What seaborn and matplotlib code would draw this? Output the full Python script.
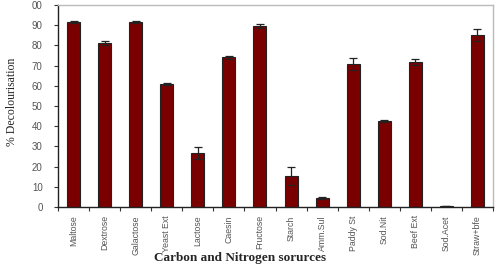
import matplotlib
matplotlib.use('Agg')
import matplotlib.pyplot as plt
import seaborn as sns
import pandas as pd
import numpy as np

sources = ['Maltose', 'Dextrose', 'Galactose', 'Yeast Ext', 'Lactose', 'Caesin',
           'Fructose', 'Starch', 'Amm.Sul', 'Paddy St', 'Sod.Nit', 'Beef Ext',
           'Sod.Acet', 'Straw+bfe']
decolour = [91.6, 81.3, 91.6, 60.9, 26.8, 74.2, 89.5, 15.3, 4.4, 70.8, 42.8, 71.8, 0.3, 85.1]
errors = [0.5, 1.0, 0.4, 0.4, 3.0, 0.7, 1.0, 4.5, 0.5, 3.0, 0.5, 1.5, 0.0, 2.8]

df = pd.DataFrame({'source': sources, 'decol': decolour, 'err': errors})

sns.set_style('white')
plt.rcParams['font.family'] = ['Liberation Sans', 'DejaVu Sans']

fig = plt.figure(figsize=(5, 2.69), dpi=100)
ax = fig.add_axes([0.116, 0.2305, 0.87, 0.751])

sns.barplot(data=df, x='source', y='decol', color='#7a0000', saturation=1,
            width=0.42, edgecolor='#222222', linewidth=0.8, errorbar=None, ax=ax)
ax.errorbar(np.arange(len(df)), df['decol'], yerr=df['err'], fmt='none',
            ecolor='#222222', elinewidth=0.9, capsize=3, capthick=0.9)

ax.set_ylim(0, 100)
ax.set_xlim(-0.5, len(df) - 0.5)
ax.set_yticks(range(0, 101, 10))
ax.set_yticklabels([str(v) for v in range(0, 100, 10)] + ['00'])
ax.tick_params(axis='y', labelsize=7, labelcolor='#555555', length=3, width=0.8,
               color='#333333', left=True, pad=8)
ax.set_xticks(np.arange(len(df)))
ax.set_xticklabels(sources, rotation=90, fontsize=6.3, color='#555555')
ax.tick_params(axis='x', length=0, pad=6)
# minor ticks between categories
ax.set_xticks(np.arange(len(df) + 1) - 0.5, minor=True)
ax.tick_params(axis='x', which='minor', length=3, width=0.8, color='#333333', bottom=True)

for side in ['top', 'right']:
    ax.spines[side].set_color('#bbbbbb')
    ax.spines[side].set_linewidth(1.0)
for side in ['left', 'bottom']:
    ax.spines[side].set_color('#222222')
    ax.spines[side].set_linewidth(1.0)

ax.set_ylabel('')
ax.set_xlabel('')
fig.text(0.025, 0.62, '% Decolourisation', rotation=90, ha='center', va='center',
         fontsize=8.5, family=['Liberation Serif'])
fig.text(0.48, 0.04, 'Carbon and Nitrogen sorurces', ha='center', va='center',
         fontsize=9.5, fontweight='bold', family=['Liberation Serif'])

fig.savefig('out.png', dpi=100)
